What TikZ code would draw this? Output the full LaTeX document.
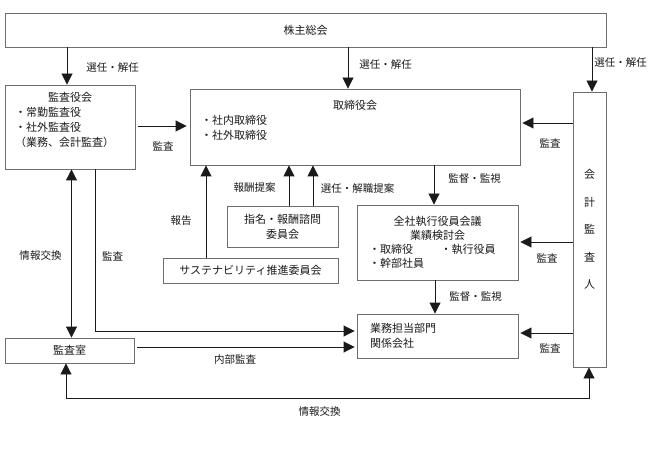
\documentclass[tikz,border=0pt]{standalone}
\usepackage{fontspec}
\setmainfont{Noto Sans CJK JP}
\usetikzlibrary{arrows.meta}
\definecolor{boxgray}{HTML}{6E6E6E}
\definecolor{inkblk}{HTML}{1A1A1A}
\setlength{\parindent}{0pt}

\begin{document}
\begin{tikzpicture}[x=1pt, y=-1pt,
  >={Triangle[length=11pt, width=11pt]}, line width=0.9pt,
  box/.style={draw=boxgray, line width=0.9pt, inner sep=0pt, text=inkblk,
    font=\fontsize{11}{15}\selectfont},
  lbl/.style={font=\fontsize{10.5}{12}\selectfont, text=inkblk, inner sep=0pt},
  arr/.style={->, inkblk}]

% Background
\useasboundingbox (0,0) rectangle (652,454);
\fill[white] (0,0) rectangle (652,454);

% =========== Boxes ===========
\node[box, minimum width=601, minimum height=34] (agm) at (305.5,30) {株主総会};

\node[box, minimum width=130, minimum height=84, inner xsep=10, text width=110, align=left]
  (kansa) at (70,127)
  {\hfill 監査役会\hfill\null\\・常勤監査役\\・社外監査役\\（業務、会計監査）\\\null};

\node[box, minimum width=330, minimum height=76, inner xsep=11, text width=308, align=left]
  (board) at (355,127)
  {\hfill 取締役会\hfill\null\\・社内取締役\\・社外取締役\\\null};

\node[box, minimum width=33, minimum height=275, align=center,
      font=\fontsize{11}{27.5}\selectfont]
  (auditor) at (589.5,229.5) {会\\計\\監\\査\\人};

\node[box, minimum width=161, minimum height=75, inner xsep=12, text width=137, align=left,
      font=\fontsize{11}{14}\selectfont]
  (exec) at (437.5,242.5)
  {\hfill 全社執行役員会議\hfill\null\\\hfill 業績検討会\hfill\null\\・取締役\hspace{2.5em}・執行役員\\・幹部社員};

\node[box, minimum width=161, minimum height=44, inner xsep=13, text width=135, align=left]
  (dept) at (437.5,336) {業務担当部門\\関係会社};

\node[box, minimum width=111, minimum height=41, align=center]
  (nomin) at (282.5,226.5) {指名・報酬諮問\\委員会};

\node[box, minimum width=175, minimum height=25] (sustain) at (250.5,270.5)
  {サステナビリティ推進委員会};

\node[box, minimum width=129, minimum height=25] (office) at (69.5,350.5) {監査室};

% =========== Shareholders ===========
\draw[arr] (agm.south -| 67,0) -- (kansa.north -| 67,0);
\node[lbl] at (112.5,68) {選任・解任};
\draw[arr] (agm.south -| 348,0) -- (board.north -| 348,0);
\node[lbl] at (385.5,65) {選任・解任};
\draw[arr] (agm.south -| 592,0) -- (auditor.north -| 592,0);
\node[lbl] at (620.5,63) {選任・解任};

% =========== Board and below ===========
\draw[arr, shorten <=3pt, shorten >=3pt] (kansa.east |- 0,126) -- (board.west |- 0,126);
\node[lbl] at (163,146) {監査};

\draw[arr] (board.south -| 434,0) -- (exec.north -| 434,0);
\node[lbl] at (474.5,179) {監督・監視};
\draw[arr] (exec.south -| 435,0) -- (dept.north -| 435,0);
\node[lbl] at (475.5,297) {監督・監視};

\draw[arr] (sustain.north -| 206,0) -- (board.south -| 206,0);
\node[lbl] at (181,221) {報告};
\draw[arr] (nomin.north -| 289,0) -- (board.south -| 289,0);
\node[lbl] at (254.5,188) {報酬提案};
\draw[arr] (nomin.north -| 313,0) -- (board.south -| 313,0);
\node[lbl] at (357.5,189) {選任・解職提案};

% =========== Accounting auditor ===========
\draw[arr, shorten >=2pt] (auditor.west |- 0,123) -- (board.east |- 0,123);
\node[lbl] at (550,143) {監査};
\draw[arr, shorten >=2pt] (auditor.west |- 0,242) -- (exec.east |- 0,242);
\node[lbl] at (547,258) {監査};
\draw[arr, shorten >=2pt] (auditor.west |- 0,333) -- (dept.east |- 0,333);
\node[lbl] at (550,348) {監査};

% =========== Audit office ===========
\draw[<->, inkblk] (kansa.south -| 71.5,0) -- (office.north -| 71.5,0);
\node[lbl] at (40.5,256) {情報交換};
\draw[arr, shorten >=2pt] (kansa.south -| 95,0) |- (dept.west |- 0,331);
\node[lbl] at (112.5,256) {監査};
\draw[arr, shorten <=3pt, shorten >=2pt] (office.east |- 0,347) -- (dept.west |- 0,347);
\node[lbl] at (235,360) {内部監査};

\draw[<->, inkblk] (office.south -| 66,0) -- (66,398) -- (589,398) -- (auditor.south -| 589,0);
\node[lbl] at (319.5,412) {情報交換};

\end{tikzpicture}
\end{document}
